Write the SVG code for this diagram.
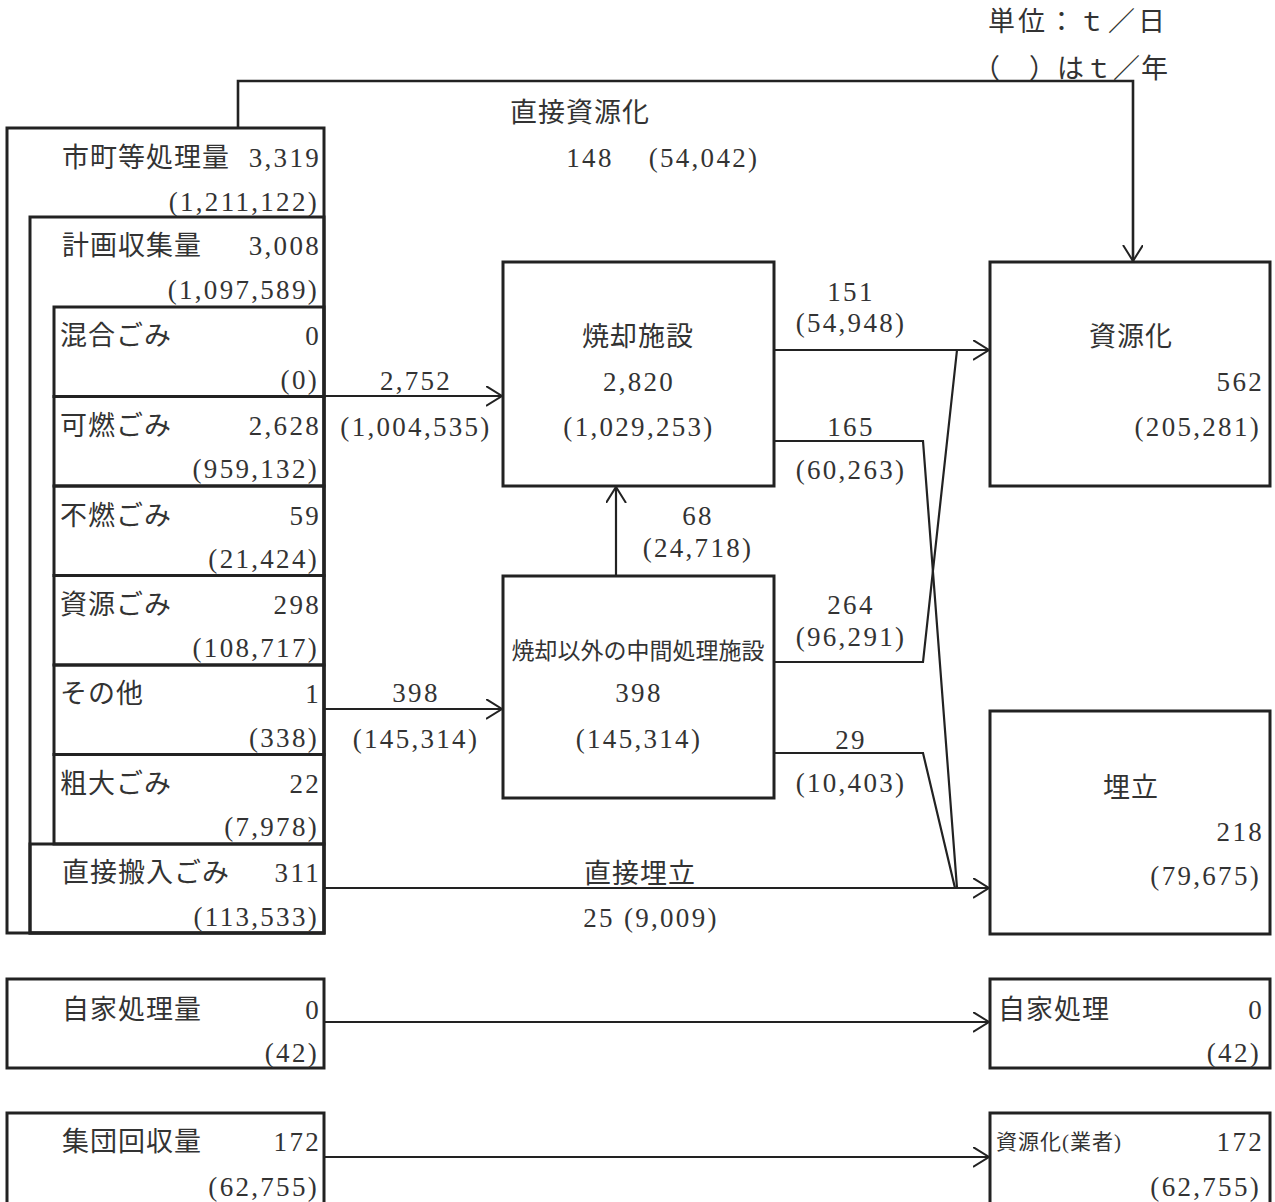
<svg xmlns="http://www.w3.org/2000/svg" width="1275" height="1202" viewBox="0 0 1275 1202">
<style>
.box{fill:none;stroke:#222;stroke-width:3}
.ln{fill:none;stroke:#222;stroke-width:2.2}
text{font-family:"Liberation Serif","Noto Sans CJK JP",serif;font-size:27px;fill:#333}
.e{text-anchor:end}
.m{text-anchor:middle}
.n{letter-spacing:2.3px}
.j{letter-spacing:1px}
.sm{font-size:23px}
.xs{font-size:21px;letter-spacing:1px}
</style>
<defs>
<marker id="ah" markerWidth="18" markerHeight="22" refX="16" refY="10" orient="auto" markerUnits="userSpaceOnUse">
<path d="M0,0 L16,10 L0,20" fill="none" stroke="#222" stroke-width="2"/>
</marker>
</defs>
<rect width="1275" height="1202" fill="#fff"/>

<g id="unit">
<text x="988" y="31" style="letter-spacing:3px">単位：ｔ／日</text>
<text x="973" y="78" class="j">（　）はｔ／年</text>
</g>

<g id="connectors">
<polyline class="ln" points="238,128 238,81 1133,81 1133,261" marker-end="url(#ah)" style="stroke-width:2.6"/>
<line class="ln" x1="324" y1="396" x2="502" y2="396" marker-end="url(#ah)"/>
<line class="ln" x1="324" y1="709" x2="502" y2="709" marker-end="url(#ah)"/>
<line class="ln" x1="616" y1="576" x2="616" y2="487" marker-end="url(#ah)"/>
<line class="ln" x1="774" y1="350" x2="989" y2="350" marker-end="url(#ah)"/>
<polyline class="ln" points="774,441 923,441 957,888"/>
<polyline class="ln" points="774,662 923,662 957,350"/>
<polyline class="ln" points="774,753 923,753 955,888"/>
<line class="ln" x1="324" y1="888" x2="989" y2="888" marker-end="url(#ah)"/>
<line class="ln" x1="324" y1="1022" x2="989" y2="1022" marker-end="url(#ah)"/>
<line class="ln" x1="324" y1="1157" x2="989" y2="1157" marker-end="url(#ah)"/>
<text x="580" y="122" class="m j">直接資源化</text>
<text x="590" y="167" class="m n">148</text>
<text x="704" y="167" class="m n">(54,042)</text>
<text x="416" y="390" class="m n">2,752</text>
<text x="416" y="436" class="m n">(1,004,535)</text>
<text x="416" y="702" class="m n">398</text>
<text x="416" y="748" class="m n">(145,314)</text>
<text x="698" y="525" class="m n">68</text>
<text x="698" y="557" class="m n">(24,718)</text>
<text x="851" y="301" class="m n">151</text>
<text x="851" y="332" class="m n">(54,948)</text>
<text x="851" y="436" class="m n">165</text>
<text x="851" y="479" class="m n">(60,263)</text>
<text x="851" y="614" class="m n">264</text>
<text x="851" y="646" class="m n">(96,291)</text>
<text x="851" y="749" class="m n">29</text>
<text x="851" y="792" class="m n">(10,403)</text>
<text x="640" y="883" class="m j">直接埋立</text>
<text x="651" y="927" class="m n">25 (9,009)</text>
</g>

<g id="shichou">
<rect class="box" x="7" y="128" width="317" height="805"/>
<text x="62" y="167" class="j">市町等処理量</text>
<text x="321" y="167" class="e n">3,319</text>
<text x="319" y="211" class="e n">(1,211,122)</text>
</g>

<g id="keikaku">
<rect class="box" x="30" y="217" width="294" height="716"/>
<text x="62" y="255" class="j">計画収集量</text>
<text x="321" y="255" class="e n">3,008</text>
<text x="319" y="299" class="e n">(1,097,589)</text>
</g>

<g id="kongo">
<rect class="box" x="54" y="307" width="270" height="89.5"/>
<text x="60" y="345" class="j">混合ごみ</text>
<text x="321" y="345" class="e n">0</text>
<text x="319" y="389" class="e n">(0)</text>
</g>
<g id="kanen">
<rect class="box" x="54" y="396.5" width="270" height="89.5"/>
<text x="60" y="435" class="j">可燃ごみ</text>
<text x="321" y="435" class="e n">2,628</text>
<text x="319" y="478" class="e n">(959,132)</text>
</g>
<g id="funen">
<rect class="box" x="54" y="486" width="270" height="89.5"/>
<text x="60" y="525" class="j">不燃ごみ</text>
<text x="321" y="525" class="e n">59</text>
<text x="319" y="568" class="e n">(21,424)</text>
</g>
<g id="shigen">
<rect class="box" x="54" y="575.5" width="270" height="89.5"/>
<text x="60" y="614" class="j">資源ごみ</text>
<text x="321" y="614" class="e n">298</text>
<text x="319" y="657" class="e n">(108,717)</text>
</g>
<g id="sonota">
<rect class="box" x="54" y="665" width="270" height="89.5"/>
<text x="60" y="703" class="j">その他</text>
<text x="321" y="703" class="e n">1</text>
<text x="319" y="747" class="e n">(338)</text>
</g>
<g id="sodai">
<rect class="box" x="54" y="754.5" width="270" height="89.5"/>
<text x="60" y="793" class="j">粗大ごみ</text>
<text x="321" y="793" class="e n">22</text>
<text x="319" y="836" class="e n">(7,978)</text>
</g>
<g id="chokusetsu">
<rect class="box" x="30" y="844" width="294" height="89"/>
<text x="62" y="882" class="j">直接搬入ごみ</text>
<text x="321" y="882" class="e n">311</text>
<text x="319" y="926" class="e n">(113,533)</text>
</g>

<g id="shokyaku">
<rect class="box" x="503" y="262" width="271" height="224"/>
<text x="638" y="346" class="m j">焼却施設</text>
<text x="639" y="391" class="m n">2,820</text>
<text x="639" y="436" class="m n">(1,029,253)</text>
</g>

<g id="chukan">
<rect class="box" x="503" y="576" width="271" height="222"/>
<text x="638" y="659" class="m sm">焼却以外の中間処理施設</text>
<text x="639" y="702" class="m n">398</text>
<text x="639" y="748" class="m n">(145,314)</text>
</g>

<g id="shigenka">
<rect class="box" x="990" y="262" width="280" height="224"/>
<text x="1131" y="346" class="m j">資源化</text>
<text x="1264" y="391" class="e n">562</text>
<text x="1261" y="436" class="e n">(205,281)</text>
</g>

<g id="umetate">
<rect class="box" x="990" y="711" width="280" height="223"/>
<text x="1131" y="797" class="m j">埋立</text>
<text x="1264" y="841" class="e n">218</text>
<text x="1261" y="885" class="e n">(79,675)</text>
</g>

<g id="jika">
<rect class="box" x="7" y="979" width="317" height="89"/>
<text x="62" y="1019" class="j">自家処理量</text>
<text x="321" y="1019" class="e n">0</text>
<text x="319" y="1062" class="e n">(42)</text>
</g>

<g id="jika-r">
<rect class="box" x="990" y="979" width="280" height="89"/>
<text x="998" y="1019" class="j">自家処理</text>
<text x="1264" y="1019" class="e n">0</text>
<text x="1261" y="1062" class="e n">(42)</text>
</g>

<g id="shudan">
<rect class="box" x="7" y="1113" width="317" height="95"/>
<text x="62" y="1151" class="j">集団回収量</text>
<text x="321" y="1151" class="e n">172</text>
<text x="319" y="1196" class="e n">(62,755)</text>
</g>

<g id="gyosha">
<rect class="box" x="990" y="1113" width="280" height="95"/>
<text x="996" y="1149" class="xs">資源化(業者)</text>
<text x="1264" y="1151" class="e n">172</text>
<text x="1261" y="1196" class="e n">(62,755)</text>
</g>
</svg>
